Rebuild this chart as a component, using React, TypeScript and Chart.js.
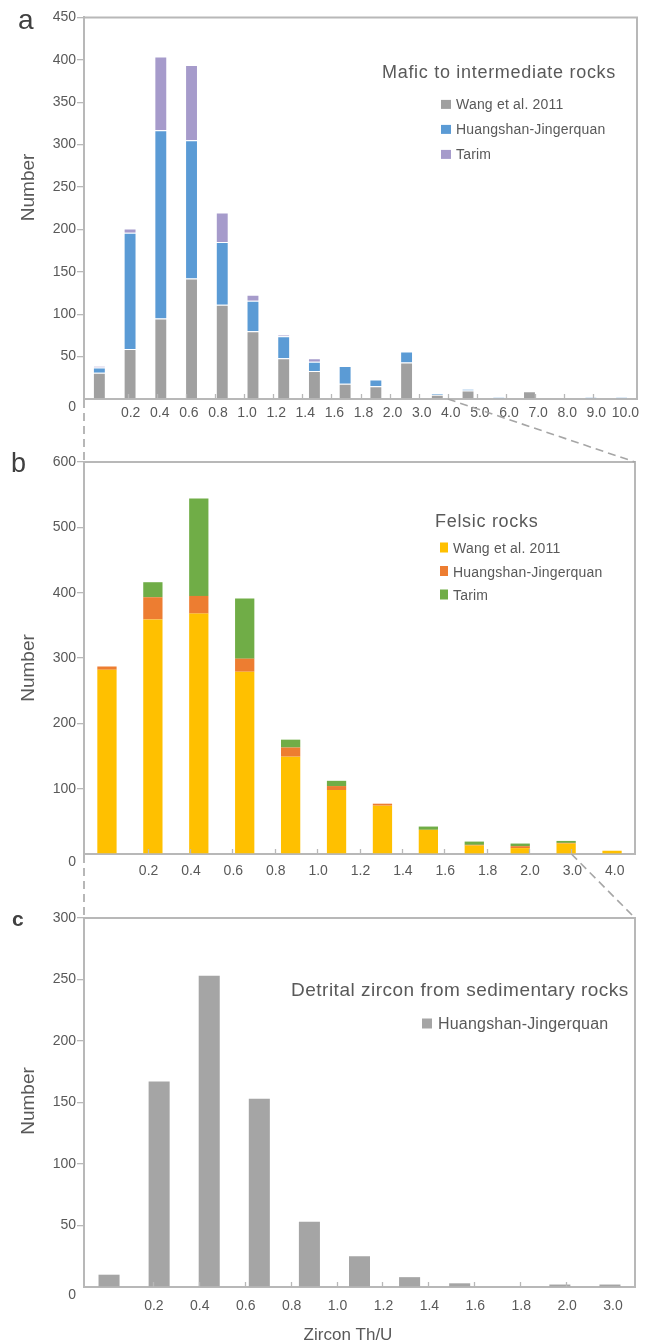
import React, { useEffect, useRef } from "react";
import { Chart, registerables } from "chart.js";

Chart.register(...registerables);

const FONT = '"Liberation Sans", Arial, Helvetica, sans-serif';
const TEXT = "#595959";
const AXIS = "#b8b8b8";

// ---------- Panel a: Mafic to intermediate rocks ----------
const binsA = ["0-0.2", "0.2-0.4", "0.4-0.6", "0.6-0.8", "0.8-1.0", "1.0-1.2", "1.2-1.4", "1.4-1.6", "1.6-1.8", "1.8-2.0", "2.0-3.0", "3.0-4.0", "4.0-5.0", "5.0-6.0", "6.0-7.0", "7.0-8.0", "8.0-9.0", "9.0-10.0"];
const edgesA = ["", "0.2", "0.4", "0.6", "0.8", "1.0", "1.2", "1.4", "1.6", "1.8", "2.0", "3.0", "4.0", "5.0", "6.0", "7.0", "8.0", "9.0", "10.0"];
const wangA = [31, 59, 95, 142, 111, 80, 48, 33, 18, 15, 43, 5, 10, 0, 9, 0, 0, 0];
const hjA = [6, 137, 222, 163, 74, 36, 26, 11, 21, 8, 13, 2, 2, 2, 0, 0, 2, 2];
const tarimA = [2, 5, 87, 89, 35, 7, 2, 4, 0, 0, 0, 0, 0, 0, 0, 0, 0, 0];

// ---------- Panel b: Felsic rocks ----------
const binsB = ["0-0.2", "0.2-0.4", "0.4-0.6", "0.6-0.8", "0.8-1.0", "1.0-1.2", "1.2-1.4", "1.4-1.6", "1.6-1.8", "1.8-2.0", "2.0-3.0", "3.0-4.0"];
const edgesB = ["", "0.2", "0.4", "0.6", "0.8", "1.0", "1.2", "1.4", "1.6", "1.8", "2.0", "3.0", "4.0"];
const wangB = [282, 359, 368, 279, 149, 98, 74, 37, 13, 9, 16, 5];
const hjB = [5, 34, 27, 20, 14, 6, 3, 0, 1, 3, 1, 0];
const tarimB = [0, 23, 149, 92, 12, 8, 0, 5, 5, 4, 3, 0];

// ---------- Panel c: Detrital zircon ----------
const binsC = ["0-0.2", "0.2-0.4", "0.4-0.6", "0.6-0.8", "0.8-1.0", "1.0-1.2", "1.2-1.4", "1.4-1.6", "1.6-1.8", "1.8-2.0", "2.0-3.0"];
const edgesC = ["", "0.2", "0.4", "0.6", "0.8", "1.0", "1.2", "1.4", "1.6", "1.8", "2.0", "3.0"];
const hjC = [10, 167, 253, 153, 53, 25, 8, 3, 0, 2, 2];

const seriesNames = ["Wang et al. 2011", "Huangshan-Jingerquan", "Tarim"];
const colorsA = ["#a0a0a0", "#5b9bd5", "#a69bcb"];
const colorsB = ["#ffc000", "#ed7d31", "#70ad47"];
const colorsC = ["#a5a5a5"];

const W = 648;
const panelTops = [0, 440, 888];
const panelHeights = [440, 448, 447];

type Decor = {
  letter: string;
  letterFont: string;
  letterDX: number;
  letterDY: number;
  title: string;
  titleSize: number;
  titleSpacing: number;
  titleDX: number;
  titleDY: number;
  legendNames: string[];
  legendColors: string[];
  legendDX: number;
  legendTextDX: number;
  legendDY: number;
  legendGap: number;
  legendSize: number;
  swatchW: number;
  swatchH: number;
  yTitleDY: number;
  xTitle?: string;
  xTitleDX?: number;
  xTitleDY?: number;
};

function decorPlugin(cfg: Decor) {
  return {
    id: "decor",
    afterDraw(chart: any) {
      const ctx = chart.ctx as CanvasRenderingContext2D;
      const a = chart.chartArea;
      const xb = chart.scales.xb;
      const n = (xb.max as number) | 0;
      ctx.save();
      // top and right frame
      ctx.strokeStyle = AXIS;
      ctx.lineWidth = 2;
      ctx.beginPath();
      ctx.moveTo(a.left, a.top);
      ctx.lineTo(a.right, a.top);
      ctx.lineTo(a.right, a.bottom);
      ctx.stroke();
      // inner tick marks at bin edges
      ctx.lineWidth = 1.3;
      for (let k = 1; k < n; k++) {
        const x = Math.round(xb.getPixelForValue(k)) + 0.5;
        ctx.beginPath();
        ctx.moveTo(x, a.bottom - 5);
        ctx.lineTo(x, a.bottom);
        ctx.stroke();
      }
      // panel letter
      ctx.fillStyle = "#404040";
      ctx.font = cfg.letterFont;
      ctx.textAlign = "left";
      ctx.textBaseline = "alphabetic";
      ctx.fillText(cfg.letter, a.left + cfg.letterDX, a.top + cfg.letterDY);
      // title
      ctx.fillStyle = TEXT;
      (ctx as any).letterSpacing = cfg.titleSpacing + "px";
      ctx.font = `${cfg.titleSize}px ${FONT}`;
      ctx.fillText(cfg.title, a.left + cfg.titleDX, a.top + cfg.titleDY);
      // legend
      (ctx as any).letterSpacing = "0.2px";
      ctx.font = `${cfg.legendSize}px ${FONT}`;
      cfg.legendNames.forEach((name, i) => {
        const by = a.top + cfg.legendDY + i * cfg.legendGap;
        ctx.fillStyle = cfg.legendColors[i];
        ctx.fillRect(a.left + cfg.legendDX, by - cfg.swatchH - 0.5, cfg.swatchW, cfg.swatchH);
        ctx.fillStyle = TEXT;
        ctx.fillText(name, a.left + cfg.legendTextDX, by);
      });
      (ctx as any).letterSpacing = "0px";
      // y title
      ctx.save();
      ctx.font = `19px ${FONT}`;
      ctx.fillStyle = TEXT;
      ctx.textAlign = "center";
      ctx.textBaseline = "middle";
      ctx.translate(a.left - 55.5, a.top + cfg.yTitleDY);
      ctx.rotate(-Math.PI / 2);
      ctx.fillText("Number", 0, 0);
      ctx.restore();
      // x title
      if (cfg.xTitle) {
        ctx.font = `17px ${FONT}`;
        ctx.fillStyle = TEXT;
        ctx.textAlign = "center";
        ctx.textBaseline = "alphabetic";
        ctx.fillText(cfg.xTitle, a.left + (cfg.xTitleDX || 0), a.bottom + (cfg.xTitleDY || 0));
      }
      ctx.restore();
    },
  };
}

function makeChart(
  canvas: HTMLCanvasElement,
  bins: string[],
  edges: string[],
  series: number[][],
  colors: string[],
  yMax: number,
  yStep: number,
  pad: { left: number; right: number; top: number; bottom: number },
  labelPad: number,
  labelOffset: number,
  barBorder: string,
  decor: Decor
) {
  const datasets = series.map((s, i) => ({
    label: seriesNames[i] || seriesNames[1],
    data: s,
    backgroundColor: colors[i],
    borderColor: barBorder,
    borderWidth: barBorder === "none" ? 0 : 1,
    barPercentage: 0.42,
    categoryPercentage: 1,
    xAxisID: "x",
    yAxisID: "y",
  }));
  return new Chart(canvas, {
    type: "bar",
    data: { labels: bins, datasets },
    options: {
      animation: false,
      responsive: false,
      devicePixelRatio: 1,
      layout: { padding: pad },
      plugins: { legend: { display: false }, tooltip: { enabled: false }, title: { display: false } },
      scales: {
        x: { type: "category", stacked: true, display: false, offset: true },
        xb: {
          type: "linear",
          position: "bottom",
          min: 0,
          max: edges.length - 1,
          afterFit: (s: any) => {
            s.height = 30;
          },
          ticks: {
            stepSize: 1,
            autoSkip: false,
            maxRotation: 0,
            minRotation: 0,
            padding: labelPad,
            labelOffset: labelOffset,
            color: TEXT,
            font: { family: FONT, size: 14 },
            callback: (v: any) => edges[Math.round(Number(v))] ?? "",
          },
          grid: { display: false, drawTicks: false },
          border: { display: true, color: AXIS, width: 2 },
        },
        y: {
          type: "linear",
          stacked: true,
          min: 0,
          max: yMax,
          afterFit: (s: any) => {
            s.width = 76;
          },
          ticks: {
            stepSize: yStep,
            padding: 1,
            color: TEXT,
            font: { family: FONT, size: 14 },
            callback: (v: any) => (Number(v) === 0 ? ["", "0"] : String(v)),
          },
          grid: {
            display: true,
            drawOnChartArea: false,
            drawTicks: true,
            tickLength: 7,
            color: (c: any) => (c.tick && c.tick.value === 0 ? "rgba(0,0,0,0)" : AXIS),
            lineWidth: 1.3,
          },
          border: { display: true, color: AXIS, width: 2 },
        },
      },
    },
    plugins: [decorPlugin(decor)],
  } as any);
}

export default function App() {
  const refA = useRef<HTMLCanvasElement>(null);
  const refB = useRef<HTMLCanvasElement>(null);
  const refC = useRef<HTMLCanvasElement>(null);
  const refO = useRef<HTMLCanvasElement>(null);

  useEffect(() => {
    const chartA = makeChart(
      refA.current!, binsA, edgesA, [wangA, hjA, tarimA], colorsA, 450, 50,
      { left: 0, right: 19, top: 8, bottom: 19 }, 6, 3, "rgba(255,255,255,0.45)",
      {
        letter: "a", letterFont: `28px ${FONT}`, letterDX: -66, letterDY: 12,
        title: "Mafic to intermediate rocks", titleSize: 18, titleSpacing: 0.7, titleDX: 298, titleDY: 61,
        legendNames: seriesNames, legendColors: colorsA, legendDX: 357, legendTextDX: 372, legendDY: 92, legendGap: 25,
        legendSize: 14, swatchW: 10, swatchH: 9, yTitleDY: 170,
      }
    );
    const chartB = makeChart(
      refB.current!, binsB, edgesB, [wangB, hjB, tarimB], colorsB, 600, 100,
      { left: 0, right: 21, top: 14, bottom: 12 }, 9, 1, "none",
      {
        letter: "b", letterFont: `27px ${FONT}`, letterDX: -73, letterDY: 10,
        title: "Felsic rocks", titleSize: 18, titleSpacing: 0.7, titleDX: 351, titleDY: 65,
        legendNames: seriesNames, legendColors: colorsB, legendDX: 356, legendTextDX: 369, legendDY: 91, legendGap: 23.5,
        legendSize: 14, swatchW: 8, swatchH: 10, yTitleDY: 206,
      }
    );
    const chartC = makeChart(
      refC.current!, binsC, edgesC, [hjC], colorsC, 300, 50,
      { left: 0, right: 21, top: 22, bottom: 26 }, 11, 1, "none",
      {
        letter: "c", letterFont: `bold 21px ${FONT}`, letterDX: -72, letterDY: 8,
        title: "Detrital zircon from sedimentary rocks", titleSize: 19, titleSpacing: 0.5, titleDX: 207, titleDY: 78,
        legendNames: [seriesNames[1]], legendColors: colorsC, legendDX: 338, legendTextDX: 354, legendDY: 111, legendGap: 25,
        legendSize: 16, swatchW: 10, swatchH: 10, yTitleDY: 183,
        xTitle: "Zircon Th/U", xTitleDX: 264, xTitleDY: 53,
      }
    );

    // dashed zoom connectors
    const o = refO.current!;
    const ctx = o.getContext("2d")!;
    ctx.clearRect(0, 0, o.width, o.height);
    ctx.strokeStyle = "#a6a6a6";
    ctx.lineWidth = 1.6;
    ctx.setLineDash([8, 5]);
    const line = (x1: number, y1: number, x2: number, y2: number) => {
      ctx.beginPath();
      ctx.moveTo(x1, y1);
      ctx.lineTo(x2, y2);
      ctx.stroke();
    };
    const aA = chartA.chartArea, aB = chartB.chartArea, aC = chartC.chartArea;
    const xbA: any = chartA.scales.xb, xbB: any = chartB.scales.xb;
    line(aA.left, aA.bottom + 1 + panelTops[0], aB.left, aB.top + panelTops[1]);
    line(xbA.getPixelForValue(edgesA.indexOf("4.0")), aA.bottom + panelTops[0], aB.right, aB.top + panelTops[1]);
    line(aB.left, aB.bottom + 1 + panelTops[1], aC.left, aC.top + panelTops[2]);
    line(xbB.getPixelForValue(edgesB.indexOf("3.0")), aB.bottom + panelTops[1], aC.right, aC.top + panelTops[2]);

    return () => {
      chartA.destroy();
      chartB.destroy();
      chartC.destroy();
    };
  }, []);

  const cs = (i: number): React.CSSProperties => ({ position: "absolute", left: 0, top: panelTops[i], display: "block" });
  return (
    <div style={{ position: "relative", width: W, height: 1335 }}>
      <canvas ref={refA} width={W} height={panelHeights[0]} style={cs(0)} />
      <canvas ref={refB} width={W} height={panelHeights[1]} style={cs(1)} />
      <canvas ref={refC} width={W} height={panelHeights[2]} style={cs(2)} />
      <canvas ref={refO} width={W} height={1335} style={{ position: "absolute", left: 0, top: 0, pointerEvents: "none" }} />
    </div>
  );
}
